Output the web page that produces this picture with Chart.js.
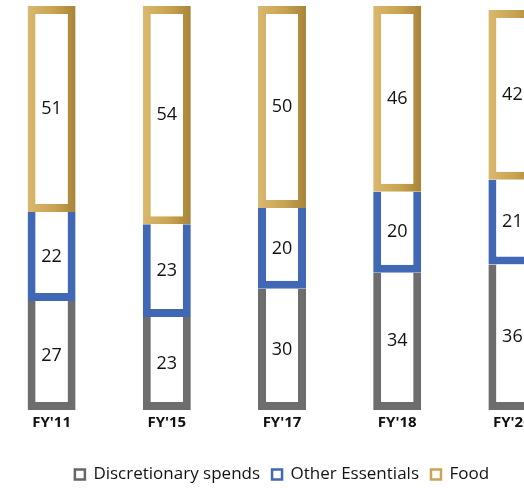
<!DOCTYPE html>
<html>
<head>
<meta charset="utf-8">
<script src="https://cdn.jsdelivr.net/npm/chart.js@4.4.1/dist/chart.umd.min.js"></script>
<style>
  html, body { margin: 0; padding: 0; background: #fff; overflow: hidden; }
  #wrap { position: relative; width: 576px; height: 494px; margin-left: -6px; }
</style>
</head>
<body>
<div id="wrap"><canvas id="chart"></canvas></div>
<script>
// categorie e valori (%)
const anni = ["FY'11", "FY'15", "FY'17", "FY'18", "FY'20"];
const discrezionali = [27, 23, 30, 34, 36];
const altriEssenziali = [22, 23, 20, 20, 21];
const cibo = [51, 54, 50, 46, 42];

const GRIGIO = '#6d6d6d';
const BLU = '#4168b4';
const ORO = '#c9a455';

// gradiente oro per ogni barra, da chiaro (sx) a scuro (dx)
function oroGradiente(context) {
  const chart = context.chart;
  const xs = chart.scales && chart.scales.x;
  if (!xs || !chart.chartArea || context.dataIndex === undefined) return ORO;
  const cx = xs.getPixelForValue(context.dataIndex);
  const g = chart.ctx.createLinearGradient(cx - 24, 0, cx + 24, 0);
  g.addColorStop(0, '#d9b86f');
  g.addColorStop(0.55, '#c9a350');
  g.addColorStop(1, '#a8843a');
  return g;
}

// etichette numeriche al centro di ogni segmento
const etichette = {
  id: 'etichette',
  afterDatasetsDraw(chart) {
    const ctx = chart.ctx;
    ctx.save();
    ctx.fillStyle = '#111';
    ctx.font = '18px "Open Sans", sans-serif';
    ctx.textAlign = 'center';
    ctx.textBaseline = 'middle';
    chart.data.datasets.forEach((ds, i) => {
      chart.getDatasetMeta(i).data.forEach((bar, j) => {
        const y = (bar.y + bar.base) / 2;
        ctx.fillText(ds.data[j], bar.x, y);
      });
    });
    ctx.restore();
  }
};

const comuni = {
  borderWidth: 8,
  inflateAmount: 0,
  backgroundColor: '#ffffff',
  barThickness: 48,
  clip: false
};

new Chart(document.getElementById('chart'), {
  type: 'bar',
  data: {
    labels: anni,
    datasets: [
      Object.assign({ label: 'Discretionary spends', data: discrezionali, borderColor: GRIGIO }, comuni, { borderSkipped: 'top' }),
      Object.assign({ label: 'Other Essentials', data: altriEssenziali, borderColor: BLU }, comuni, { borderSkipped: 'top' }),
      Object.assign({ label: 'Food', data: cibo, borderColor: oroGradiente }, comuni, { borderSkipped: false })
    ]
  },
  options: {
    responsive: true,
    maintainAspectRatio: false,
    animation: false,
    layout: { padding: { top: 6, left: 0, right: 0, bottom: 1 } },
    plugins: {
      tooltip: { enabled: false },
      legend: {
        position: 'bottom',
        labels: {
          color: '#111',
          font: { family: '"Open Sans", sans-serif', size: 17 },
          boxWidth: 10,
          boxHeight: 10,
          padding: 12,
          generateLabels(chart) {
            const colori = ['#666666', BLU, ORO];
            return chart.data.datasets.map((ds, i) => ({
              text: ds.label,
              fillStyle: '#ffffff',
              strokeStyle: colori[i],
              lineWidth: 2.5,
              fontColor: '#111',
              datasetIndex: i
            }));
          }
        }
      }
    },
    scales: {
      x: {
        stacked: true,
        grid: { display: false, drawTicks: false },
        border: { display: false },
        afterFit(scale) { scale.height = 44; },
        ticks: {
          color: '#111',
          padding: 4,
          font: { family: '"Open Sans", sans-serif', size: 15, weight: 'bold' }
        }
      },
      y: {
        stacked: true,
        display: false,
        min: 0,
        max: 100
      }
    }
  },
  plugins: [etichette]
});
</script>
</body>
</html>
